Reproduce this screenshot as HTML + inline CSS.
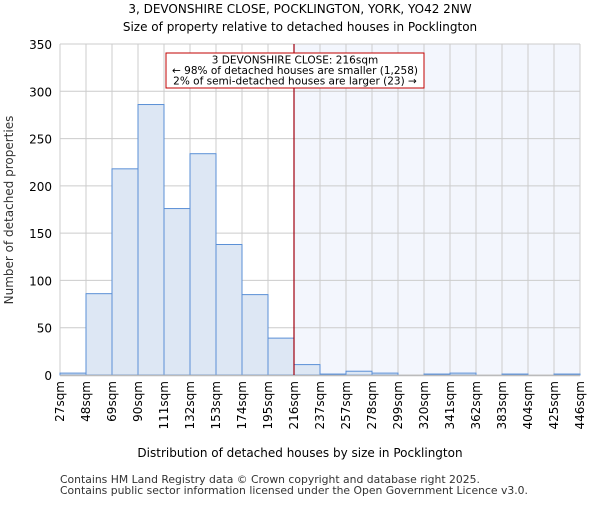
<!DOCTYPE html>
<html><head><meta charset="utf-8"><style>
body{margin:0;background:#fff}
text{font-family:"DejaVu Sans","Liberation Sans",sans-serif}
</style></head><body>
<svg id="chart" width="600" height="500" xmlns="http://www.w3.org/2000/svg">
<rect width="600" height="500" fill="#fff"/>
<text x="300" y="13" text-anchor="middle" font-size="12">3, DEVONSHIRE CLOSE, POCKLINGTON, YORK, YO42 2NW</text>
<text x="300" y="31" text-anchor="middle" font-size="12">Size of property relative to detached houses in Pocklington</text>
<g id="plot"></g>
<text x="300" y="457" text-anchor="middle" font-size="12">Distribution of detached houses by size in Pocklington</text>
<text transform="translate(13,210) rotate(-90)" text-anchor="middle" font-size="12" fill="#333">Number of detached properties</text>
<text x="60" y="483" font-size="10.8" fill="#333">Contains HM Land Registry data © Crown copyright and database right 2025.</text>
<text x="60" y="494" font-size="10.8" fill="#333">Contains public sector information licensed under the Open Government Licence v3.0.</text>
</svg>
<script>
const binLabels=["27sqm","48sqm","69sqm","90sqm","111sqm","132sqm","153sqm","174sqm","195sqm","216sqm","237sqm","257sqm","278sqm","299sqm","320sqm","341sqm","362sqm","383sqm","404sqm","425sqm","446sqm"];
const counts=[2,86,218,286,176,234,138,85,39,11,1,4,2,0,1,2,0,1,0,1];
const yTicks=[0,50,100,150,200,250,300,350];
const markerIndex=9;
const L=60,R=580,T=44,B=375,yMax=350;
const NS="http://www.w3.org/2000/svg";
const g=document.getElementById('plot');
const bw=(R-L)/counts.length;
const x=i=>L+i*bw;
const y=v=>B-(v/yMax)*(B-T);
function mk(t,a,p){const e=document.createElementNS(NS,t);for(const k in a)e.setAttribute(k,a[k]);(p||g).appendChild(e);return e;}
const sh=mk('rect',{x:x(markerIndex),y:T,width:R-x(markerIndex),height:B-T,fill:'#f3f6fd'});


yTicks.forEach(v=>{
 const l=mk('line',{x1:L,x2:R,y1:y(v),y2:y(v),stroke:'#cccccc','stroke-width':1});
 
 
 const t=mk('text',{x:L-8,y:y(v)+5,'text-anchor':'end','font-size':12});
 t.textContent=v;
 
 
});
binLabels.forEach((s,i)=>{
 const l=mk('line',{x1:x(i),x2:x(i),y1:T,y2:B,stroke:'#cccccc','stroke-width':1});
 
 
 const t=mk('text',{transform:`translate(${x(i)+4},${B+6}) rotate(-90)`,'text-anchor':'end','font-size':12});
 t.textContent=s;
 
 
});
counts.forEach((v,i)=>{
 if(v<=0)return;
 const r=mk('rect',{x:x(i),y:y(v),width:bw,height:B-y(v),fill:'#dde7f4',stroke:'#5a8fd6','stroke-width':1});
 
 
});
const ax=mk('line',{x1:L,x2:R,y1:B+0.5,y2:B+0.5,stroke:'#bbbbbb','stroke-width':1.5});


const ml=mk('line',{x1:x(markerIndex),x2:x(markerIndex),y1:T,y2:B,stroke:'#a00010','stroke-width':1.2});


const bx=mk('rect',{x:166,y:53,width:258,height:35,fill:'#fff',stroke:'#c00000','stroke-width':1});


["3 DEVONSHIRE CLOSE: 216sqm","← 98% of detached houses are smaller (1,258)","2% of semi-detached houses are larger (23) →"].forEach((s,i)=>{
 const t=mk('text',{x:295,y:63.5+i*10.5,'text-anchor':'middle','font-size':10.5,'textLength':i==0?'':''});
 t.removeAttribute('textLength');
 t.textContent=s;
 
 
});
</script>
</body></html>
